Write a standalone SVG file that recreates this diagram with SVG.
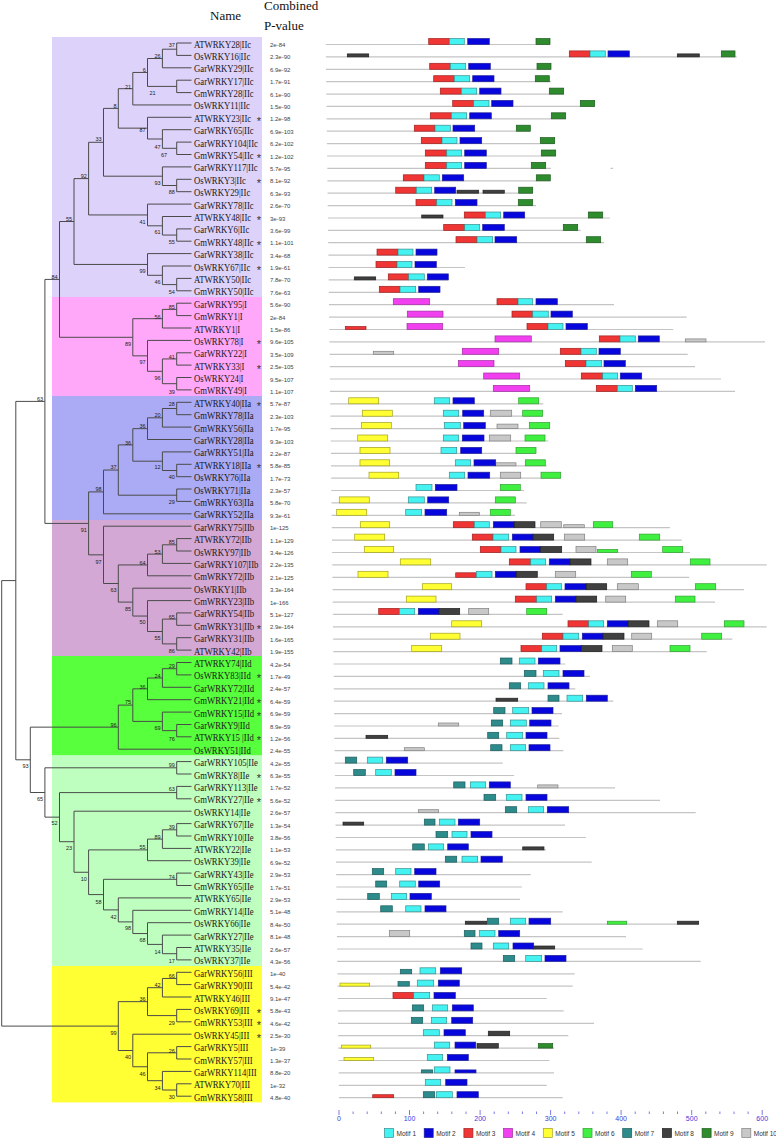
<svg xmlns="http://www.w3.org/2000/svg" width="776" height="1139" viewBox="0 0 776 1139">
<style>
.nm{font-family:"Liberation Serif",serif;font-size:10px;fill:#1a1a1a}
.pv{font-family:"Liberation Sans",sans-serif;font-size:6px;fill:#444}
.st{font-family:"Liberation Sans",sans-serif;font-size:11px;fill:#333;text-anchor:middle;transform:translateY(1.5px)}
.bs{font-family:"Liberation Sans",sans-serif;font-size:5.5px;fill:#222;text-anchor:end}
.hd{font-family:"Liberation Serif",serif;font-size:13px;fill:#111}
.tr{fill:none;stroke:#4a4a4a;stroke-width:1}
.ln{fill:none;stroke:#c4c4c4;stroke-width:1.2}
.cl{stroke:none}
rect{stroke-width:.7}
.m1{fill:#44F2F2;stroke:#3a8f8f}
.m2{fill:#0606DD;stroke:#20209a}
.m3{fill:#F03535;stroke:#a02020}
.m4{fill:#F040F0;stroke:#a030a0}
.m5{fill:#FFFF33;stroke:#a0a020}
.m6{fill:#40F040;stroke:#30a030}
.m7{fill:#2E8B8B;stroke:#1d5d5d}
.m8{fill:#404040;stroke:#202020}
.m9{fill:#2E8B2E;stroke:#1d5d1d}
.m10{fill:#C8C8C8;stroke:#808080}
.ax{font-family:"Liberation Sans",sans-serif;font-size:7px;fill:#3a3ae0;text-anchor:middle}
.tk{fill:none;stroke:#5a5ae0;stroke-width:.8}
.lg{font-family:"Liberation Sans",sans-serif;font-size:6.5px;fill:#333}
</style>
<rect width="776" height="1139" fill="#fff"/>
<g id="headers">
<text class="hd" x="210" y="20">Name</text>
<text class="hd" x="264" y="10">Combined</text>
<text class="hd" x="264" y="30">P-value</text>
</g>
<g id="clades">
<rect class="cl" x="52" y="37" width="210" height="260" fill="#DDD2FA"/>
<rect class="cl" x="52" y="297" width="210" height="99" fill="#FFA8FA"/>
<rect class="cl" x="52" y="396" width="210" height="124" fill="#AAAAF5"/>
<rect class="cl" x="52" y="520" width="210" height="136" fill="#D4A8D4"/>
<rect class="cl" x="52" y="656" width="210" height="99.5" fill="#58FF3C"/>
<rect class="cl" x="52" y="755.5" width="210" height="210.5" fill="#BEFFBF"/>
<rect class="cl" x="52" y="966" width="210" height="136.4" fill="#FFFF33"/>
</g>
<g id="connectors">
<path class="tr" d="M191.5 43H176.7V55.4H191.5M176.7 49.2H162.4V67.8H191.5M191.5 80.2H176.7V92.6H191.5M162.4 58.5H147.5V86.4H176.7M147.5 72.45H132.8V104.95H191.5M191.5 142.1H176.7V154.5H191.5M191.5 129.7H162.4V148.3H176.7M191.5 117.3H147.5V139H162.4M132.8 88.7H118.3V128.15H147.5M191.5 179.3H176.7V191.7H191.5M191.5 166.9H162.4V185.5H176.7M118.3 108.4H103.5V176.2H162.4M191.5 228.9H176.7V241.2H191.5M191.5 216.5H162.4V235.05H176.7M191.5 204.1H147.5V225.8H162.4M103.5 142.3H88.6V214.95H147.5M191.5 278.4H176.7V290.8H191.5M191.5 266H162.4V284.6H176.7M191.5 253.6H147.5V275.3H162.4M88.6 178.6H74V264.45H147.5"/>
<path class="tr" d="M191.5 303.2H176.7V315.6H191.5M176.7 309.4H162.4V328H191.5M191.5 352.8H176.7V365.1H191.5M191.5 377.5H176.7V389.9H191.5M176.7 358.95H162.4V383.7H176.7M191.5 340.4H147.5V371.3H162.4M162.4 318.7H132.8V355.85H147.5M74 221.5H59.5V337.3H132.8"/>
<path class="tr" d="M191.5 402.3H176.7V414.7H191.5M176.7 408.5H162.4V427.1H191.5M162.4 417.8H147.5V439.5H191.5M191.5 464.3H176.7V476.7H191.5M191.5 451.9H162.4V470.5H176.7M147.5 428.65H132.8V461.2H162.4M191.5 489H176.7V501.4H191.5M132.8 444.9H118.3V495.2H176.7M118.3 470.05H103.5V513.8H191.5"/>
<path class="tr" d="M191.5 538.6H176.7V551H191.5M176.7 544.8H162.4V563.4H191.5M162.4 554.1H147.5V575.8H191.5M191.5 612.9H176.7V625.3H191.5M191.5 637.7H176.7V650.1H191.5M176.7 619.1H162.4V643.9H176.7M191.5 600.6H147.5V631.5H162.4M191.5 588.2H132.8V616.05H147.5M147.5 564.95H118.3V602.1H132.8M191.5 526.2H103.5V583.5H118.3M103.5 491.9H88.6V554.85H103.5M59.5 279.4H44.9V523.4H88.6"/>
<path class="tr" d="M191.5 662.5H176.7V674.9H191.5M176.7 668.7H162.4V687.3H191.5M162.4 678H147.5V699.7H191.5M191.5 724.5H176.7V736.8H191.5M191.5 712.1H162.4V730.65H176.7M147.5 688.85H132.8V721.4H162.4M132.8 705.1H118.3V749.2H191.5"/>
<path class="tr" d="M191.5 761.6H176.7V774H191.5M191.5 786.4H176.7V798.8H191.5M191.5 823.6H176.7V836H191.5M176.7 829.8H162.4V848.4H191.5M162.4 839.1H147.5V860.7H191.5M191.5 873.1H176.7V885.5H191.5M191.5 947.5H176.7V959.9H191.5M191.5 935.1H162.4V953.7H176.7M191.5 922.7H147.5V944.4H162.4M191.5 910.3H132.8V933.55H147.5M191.5 897.9H118.3V921.9H132.8M176.7 879.3H103.5V909.9H118.3M147.5 849.9H88.6V894.6H103.5M191.5 811.2H74V872.25H88.6M176.7 792.6H59.5V841.7H74M176.7 767.8H44.9V817.15H59.5M118.3 727.15H30.3V792.5H44.9M44.9 401.4H15.8V759.8H30.3"/>
<path class="tr" d="M191.5 972.3H176.7V984.6H191.5M176.7 978.45H162.4V997H191.5M191.5 1009.4H176.7V1021.8H191.5M162.4 987.7H147.5V1015.6H176.7M191.5 1046.6H176.7V1059H191.5M191.5 1083.8H176.7V1096.2H191.5M191.5 1071.4H162.4V1090H176.7M176.7 1052.8H147.5V1080.7H162.4M191.5 1034.2H132.8V1066.75H147.5M147.5 1001.65H118.3V1050.5H132.8M15.8 580.6H1.7V1026.1H118.3"/>
</g>
<g id="bootstrap">
<text class="bs" x="174.9" y="46.8">37</text><text class="bs" x="160.6" y="57.8">26</text><text class="bs" x="155.5" y="94.5">21</text><text class="bs" x="145.7" y="71.8">6</text><text class="bs" x="131" y="88.8">21</text><text class="bs" x="167" y="156.8">67</text><text class="bs" x="160.6" y="148.5">47</text><text class="bs" x="145.7" y="131.8">87</text><text class="bs" x="116.5" y="107.8">8</text><text class="bs" x="174.9" y="193.8">88</text><text class="bs" x="160.6" y="185">93</text><text class="bs" x="101.7" y="141.1">33</text><text class="bs" x="174.9" y="243.5">55</text><text class="bs" x="160.6" y="234.1">61</text><text class="bs" x="145.7" y="223.5">41</text><text class="bs" x="86.8" y="177.8">92</text><text class="bs" x="174.9" y="294.1">54</text><text class="bs" x="160.6" y="284.1">46</text><text class="bs" x="145.7" y="272.8">99</text><text class="bs" x="72.2" y="220.8">55</text>
<text class="bs" x="174.9" y="308.5">85</text><text class="bs" x="160.6" y="318.5">56</text><text class="bs" x="174.9" y="358.5">41</text><text class="bs" x="174.9" y="393.5">39</text><text class="bs" x="160.6" y="380.1">96</text><text class="bs" x="145.7" y="363.8">97</text><text class="bs" x="131" y="346.1">89</text><text class="bs" x="57.7" y="278.5">84</text>
<text class="bs" x="174.9" y="406.1">28</text><text class="bs" x="160.6" y="416.8">20</text><text class="bs" x="145.7" y="427.8">36</text><text class="bs" x="174.9" y="479.1">40</text><text class="bs" x="160.6" y="469.1">12</text><text class="bs" x="131" y="444.5">36</text><text class="bs" x="174.9" y="504.1">29</text><text class="bs" x="116.5" y="469.1">37</text><text class="bs" x="101.7" y="490.8">98</text>
<text class="bs" x="174.9" y="543.5">85</text><text class="bs" x="160.6" y="553.5">53</text><text class="bs" x="145.7" y="564.5">64</text><text class="bs" x="174.9" y="618.5">65</text><text class="bs" x="174.9" y="652.8">86</text><text class="bs" x="160.6" y="640.1">55</text><text class="bs" x="145.7" y="624.1">50</text><text class="bs" x="131" y="610.8">85</text><text class="bs" x="116.5" y="591.8">63</text><text class="bs" x="101.7" y="564.1">97</text><text class="bs" x="86.8" y="531.8">91</text><text class="bs" x="43.1" y="400.8">63</text>
<text class="bs" x="174.9" y="667.8">29</text><text class="bs" x="160.6" y="677.5">24</text><text class="bs" x="145.7" y="688.5">36</text><text class="bs" x="174.9" y="740.8">76</text><text class="bs" x="160.6" y="730.1">69</text><text class="bs" x="131" y="704.1">75</text><text class="bs" x="116.5" y="726.8">96</text>
<text class="bs" x="174.9" y="766.8">99</text><text class="bs" x="174.9" y="791.1">63</text><text class="bs" x="174.9" y="828.5">39</text><text class="bs" x="160.6" y="838.5">89</text><text class="bs" x="145.7" y="849.1">55</text><text class="bs" x="174.9" y="878.5">74</text><text class="bs" x="174.9" y="962.5">17</text><text class="bs" x="160.6" y="953.5">14</text><text class="bs" x="145.7" y="941.8">68</text><text class="bs" x="131" y="930.1">98</text><text class="bs" x="116.5" y="918.5">42</text><text class="bs" x="101.7" y="903.5">58</text><text class="bs" x="86.8" y="880.8">10</text><text class="bs" x="72.2" y="850.1">23</text><text class="bs" x="57.7" y="825.1">52</text><text class="bs" x="43.1" y="801.1">65</text><text class="bs" x="28.5" y="767.8">93</text>
<text class="bs" x="174.9" y="977.5">66</text><text class="bs" x="160.6" y="986.8">42</text><text class="bs" x="174.9" y="1024.5">29</text><text class="bs" x="145.7" y="1000.8">36</text><text class="bs" x="174.9" y="1052.5">26</text><text class="bs" x="174.9" y="1098.5">30</text><text class="bs" x="160.6" y="1089.5">34</text><text class="bs" x="145.7" y="1075.8">46</text><text class="bs" x="131" y="1059.1">40</text><text class="bs" x="116.5" y="1034.5">99</text>
</g>
<g id="r00" transform="translate(0,43)"><text class="nm" transform="matrix(.87 0 0 1 194 4.5)">ATWRKY28|IIc</text><text class="pv" x="270" y="4">2e-84</text><path class="ln" d="M325.7 1.5H550"/><rect class="m3" x="428.7" y="-4.5" width="20.6" height="6"/><rect class="m1" x="449.3" y="-4.5" width="15" height="6"/><rect class="m2" x="467.7" y="-4.5" width="21.6" height="6"/><rect class="m9" x="536" y="-4.5" width="14" height="6"/></g>
<g id="r01" transform="translate(0,55.4)"><text class="nm" transform="matrix(.87 0 0 1 194 4.5)">OsWRKY16|IIc</text><text class="pv" x="270" y="4">2.3e-90</text><path class="ln" d="M325.9 1.5H736.7"/><rect class="m8" x="347.3" y="-1.5" width="21.4" height="3"/><rect class="m3" x="569.3" y="-4.5" width="20.7" height="6"/><rect class="m1" x="590" y="-4.5" width="15.3" height="6"/><rect class="m2" x="608" y="-4.5" width="21.3" height="6"/><rect class="m8" x="677.3" y="-1.5" width="22" height="3"/><rect class="m9" x="721.3" y="-4.5" width="13.7" height="6"/></g>
<g id="r02" transform="translate(0,67.8)"><text class="nm" transform="matrix(.87 0 0 1 194 4.5)">GarWRKY29|IIc</text><text class="pv" x="270" y="4">6.9e-92</text><path class="ln" d="M326 1.5H551"/><rect class="m3" x="429.7" y="-4.5" width="20.6" height="6"/><rect class="m1" x="450.3" y="-4.5" width="15.4" height="6"/><rect class="m2" x="468.7" y="-4.5" width="21.6" height="6"/><rect class="m9" x="537" y="-4.5" width="14" height="6"/></g>
<g id="r03" transform="translate(0,80.2)"><text class="nm" transform="matrix(.87 0 0 1 194 4.5)">GarWRKY17|IIc</text><text class="pv" x="270" y="4">1.7e-91</text><path class="ln" d="M326.2 1.5H551"/><rect class="m3" x="433.7" y="-4.5" width="20.6" height="6"/><rect class="m1" x="454.3" y="-4.5" width="15.4" height="6"/><rect class="m2" x="472.7" y="-4.5" width="21.3" height="6"/><rect class="m9" x="535.3" y="-4.5" width="14" height="6"/></g>
<g id="r04" transform="translate(0,92.6)"><text class="nm" transform="matrix(.87 0 0 1 194 4.5)">GmWRKY28|IIc</text><text class="pv" x="270" y="4">6.1e-90</text><path class="ln" d="M326.3 1.5H563.7"/><rect class="m3" x="440.3" y="-4.5" width="21" height="6"/><rect class="m1" x="461.3" y="-4.5" width="15.4" height="6"/><rect class="m2" x="479.7" y="-4.5" width="21.3" height="6"/><rect class="m9" x="549.3" y="-4.5" width="14.4" height="6"/></g>
<g id="r05" transform="translate(0,104.95)"><text class="nm" transform="matrix(.87 0 0 1 194 4.5)">OsWRKY11|IIc</text><text class="pv" x="270" y="4">1.5e-90</text><path class="ln" d="M326.5 1.5H594.7"/><rect class="m3" x="452.7" y="-4.5" width="21" height="6"/><rect class="m1" x="473.7" y="-4.5" width="15.3" height="6"/><rect class="m2" x="491.7" y="-4.5" width="21.3" height="6"/><rect class="m9" x="580.3" y="-4.5" width="14.4" height="6"/></g>
<g id="r06" transform="translate(0,117.3)"><text class="nm" transform="matrix(.87 0 0 1 194 4.5)">ATWRKY23|IIc</text><text class="st" x="259" y="6">*</text><text class="pv" x="270" y="4">1.2e-98</text><path class="ln" d="M326.6 1.5H565.7"/><rect class="m3" x="430.3" y="-4.5" width="21" height="6"/><rect class="m1" x="451.3" y="-4.5" width="15.4" height="6"/><rect class="m2" x="469.7" y="-4.5" width="21.6" height="6"/><rect class="m9" x="551.3" y="-4.5" width="14.4" height="6"/></g>
<g id="r07" transform="translate(0,129.7)"><text class="nm" transform="matrix(.87 0 0 1 194 4.5)">GarWRKY65|IIc</text><text class="pv" x="270" y="4">6.9e-103</text><path class="ln" d="M326.8 1.5H530.3"/><rect class="m3" x="414.3" y="-4.5" width="20.7" height="6"/><rect class="m1" x="435" y="-4.5" width="15.3" height="6"/><rect class="m2" x="453" y="-4.5" width="21.7" height="6"/><rect class="m9" x="516.3" y="-4.5" width="14" height="6"/></g>
<g id="r08" transform="translate(0,142.1)"><text class="nm" transform="matrix(.87 0 0 1 194 4.5)">GarWRKY104|IIc</text><text class="pv" x="270" y="4">6.2e-102</text><path class="ln" d="M326.9 1.5H554.7"/><rect class="m3" x="421.3" y="-4.5" width="20.7" height="6"/><rect class="m1" x="442" y="-4.5" width="15" height="6"/><rect class="m2" x="460" y="-4.5" width="21.7" height="6"/><rect class="m9" x="540.3" y="-4.5" width="14.4" height="6"/></g>
<g id="r09" transform="translate(0,154.5)"><text class="nm" transform="matrix(.87 0 0 1 194 4.5)">GmWRKY54|IIc</text><text class="st" x="259" y="6">*</text><text class="pv" x="270" y="4">1.2e-102</text><path class="ln" d="M327.1 1.5H555.7"/><rect class="m3" x="425.3" y="-4.5" width="21.4" height="6"/><rect class="m1" x="446.7" y="-4.5" width="15" height="6"/><rect class="m2" x="464.7" y="-4.5" width="21.6" height="6"/><rect class="m9" x="541.3" y="-4.5" width="14.4" height="6"/></g>
<g id="r10" transform="translate(0,166.9)"><text class="nm" transform="matrix(.87 0 0 1 194 4.5)">GarWRKY117|IIc</text><text class="pv" x="270" y="4">5.7e-95</text><path class="ln" d="M327.3 1.5H551M610.5 1.5H613"/><rect class="m3" x="425.3" y="-4.5" width="21.4" height="6"/><rect class="m1" x="446.7" y="-4.5" width="15" height="6"/><rect class="m2" x="464.7" y="-4.5" width="21.6" height="6"/><rect class="m9" x="531.3" y="-4.5" width="14.4" height="6"/></g>
<g id="r11" transform="translate(0,179.3)"><text class="nm" transform="matrix(.87 0 0 1 194 4.5)">OsWRKY3|IIc</text><text class="st" x="259" y="6">*</text><text class="pv" x="270" y="4">8.1e-92</text><path class="ln" d="M327.4 1.5H550.3"/><rect class="m3" x="403.3" y="-4.5" width="20.7" height="6"/><rect class="m1" x="424" y="-4.5" width="15.3" height="6"/><rect class="m2" x="442.3" y="-4.5" width="21.4" height="6"/><rect class="m9" x="536.3" y="-4.5" width="14" height="6"/></g>
<g id="r12" transform="translate(0,191.7)"><text class="nm" transform="matrix(.87 0 0 1 194 4.5)">OsWRKY29|IIc</text><text class="pv" x="270" y="4">6.3e-93</text><path class="ln" d="M327.6 1.5H532.7"/><rect class="m3" x="395.7" y="-4.5" width="20.6" height="6"/><rect class="m1" x="416.3" y="-4.5" width="15.4" height="6"/><rect class="m2" x="434.7" y="-4.5" width="21" height="6"/><rect class="m8" x="457" y="-1.5" width="21.7" height="3"/><rect class="m8" x="483" y="-1.5" width="21.3" height="3"/><rect class="m9" x="518.7" y="-4.5" width="14" height="6"/></g>
<g id="r13" transform="translate(0,204.1)"><text class="nm" transform="matrix(.87 0 0 1 194 4.5)">GarWRKY78|IIc</text><text class="pv" x="270" y="4">2.6e-70</text><path class="ln" d="M327.7 1.5H536"/><rect class="m3" x="416" y="-4.5" width="20.7" height="6"/><rect class="m1" x="436.7" y="-4.5" width="15.3" height="6"/><rect class="m2" x="455.3" y="-4.5" width="21.7" height="6"/><rect class="m9" x="518.3" y="-4.5" width="14.4" height="6"/></g>
<g id="r14" transform="translate(0,216.5)"><text class="nm" transform="matrix(.87 0 0 1 194 4.5)">ATWRKY48|IIc</text><text class="st" x="259" y="6">*</text><text class="pv" x="270" y="4">3e-93</text><path class="ln" d="M327.9 1.5H610"/><rect class="m8" x="421.7" y="-1.5" width="21.3" height="3"/><rect class="m3" x="464.3" y="-4.5" width="21" height="6"/><rect class="m1" x="485.3" y="-4.5" width="15.4" height="6"/><rect class="m2" x="503.7" y="-4.5" width="21" height="6"/><rect class="m9" x="588.3" y="-4.5" width="14.4" height="6"/></g>
<g id="r15" transform="translate(0,228.9)"><text class="nm" transform="matrix(.87 0 0 1 194 4.5)">GarWRKY6|IIc</text><text class="pv" x="270" y="4">3.6e-99</text><path class="ln" d="M328 1.5H580.7"/><rect class="m3" x="443.7" y="-4.5" width="21" height="6"/><rect class="m1" x="464.7" y="-4.5" width="15" height="6"/><rect class="m2" x="482.7" y="-4.5" width="21.6" height="6"/><rect class="m9" x="563.3" y="-4.5" width="14.4" height="6"/></g>
<g id="r16" transform="translate(0,241.2)"><text class="nm" transform="matrix(.87 0 0 1 194 4.5)">GmWRKY48|IIc</text><text class="st" x="259" y="6">*</text><text class="pv" x="270" y="4">1.1e-101</text><path class="ln" d="M328.2 1.5H604"/><rect class="m3" x="456" y="-4.5" width="21" height="6"/><rect class="m1" x="477" y="-4.5" width="15.7" height="6"/><rect class="m2" x="495" y="-4.5" width="21.7" height="6"/><rect class="m9" x="586.3" y="-4.5" width="14.4" height="6"/></g>
<g id="r17" transform="translate(0,253.6)"><text class="nm" transform="matrix(.87 0 0 1 194 4.5)">GarWRKY38|IIc</text><text class="pv" x="270" y="4">3.4e-68</text><path class="ln" d="M328.4 1.5H437"/><rect class="m3" x="377" y="-4.5" width="21" height="6"/><rect class="m1" x="398" y="-4.5" width="15" height="6"/><rect class="m2" x="416" y="-4.5" width="21" height="6"/></g>
<g id="r18" transform="translate(0,266)"><text class="nm" transform="matrix(.87 0 0 1 194 4.5)">OsWRKY67|IIc</text><text class="st" x="259" y="6">*</text><text class="pv" x="270" y="4">1.9e-61</text><path class="ln" d="M328.5 1.5H465"/><rect class="m3" x="376" y="-4.5" width="21" height="6"/><rect class="m1" x="397" y="-4.5" width="15" height="6"/><rect class="m2" x="415" y="-4.5" width="21.3" height="6"/></g>
<g id="r19" transform="translate(0,278.4)"><text class="nm" transform="matrix(.87 0 0 1 194 4.5)">ATWRKY50|IIc</text><text class="pv" x="270" y="4">7.8e-70</text><path class="ln" d="M328.7 1.5H448.3"/><rect class="m8" x="354.3" y="-1.5" width="21.4" height="3"/><rect class="m3" x="388.3" y="-4.5" width="20.4" height="6"/><rect class="m1" x="408.7" y="-4.5" width="15.6" height="6"/><rect class="m2" x="427.3" y="-4.5" width="21" height="6"/></g>
<g id="r20" transform="translate(0,290.8)"><text class="nm" transform="matrix(.87 0 0 1 194 4.5)">GmWRKY50|IIc</text><text class="pv" x="270" y="4">7.6e-63</text><path class="ln" d="M328.8 1.5H440"/><rect class="m3" x="379.3" y="-4.5" width="20.7" height="6"/><rect class="m1" x="400" y="-4.5" width="15.7" height="6"/><rect class="m2" x="418.7" y="-4.5" width="21.3" height="6"/></g>
<g id="r21" transform="translate(0,303.2)"><text class="nm" transform="matrix(.87 0 0 1 194 4.5)">GarWRKY95|I</text><text class="pv" x="270" y="4">5.6e-90</text><path class="ln" d="M329 1.5H614"/><rect class="m4" x="393.3" y="-4.5" width="36.4" height="6"/><rect class="m3" x="497" y="-4.5" width="21" height="6"/><rect class="m1" x="518" y="-4.5" width="14.7" height="6"/><rect class="m2" x="536" y="-4.5" width="21.3" height="6"/></g>
<g id="r22" transform="translate(0,315.6)"><text class="nm" transform="matrix(.87 0 0 1 194 4.5)">GmWRKY1|I</text><text class="pv" x="270" y="4">2e-84</text><path class="ln" d="M329.1 1.5H686.7"/><rect class="m4" x="407.3" y="-4.5" width="35.7" height="6"/><rect class="m3" x="512" y="-4.5" width="20.7" height="6"/><rect class="m1" x="532.7" y="-4.5" width="15.6" height="6"/><rect class="m2" x="551" y="-4.5" width="21.3" height="6"/></g>
<g id="r23" transform="translate(0,328)"><text class="nm" transform="matrix(.87 0 0 1 194 4.5)">ATWRKY1|I</text><text class="pv" x="270" y="4">1.5e-86</text><path class="ln" d="M329.3 1.5H673.3"/><rect class="m3" x="345.3" y="-1.5" width="20.7" height="3"/><rect class="m4" x="407" y="-4.5" width="35.7" height="6"/><rect class="m3" x="527" y="-4.5" width="21" height="6"/><rect class="m1" x="548" y="-4.5" width="15" height="6"/><rect class="m2" x="566" y="-4.5" width="21.3" height="6"/></g>
<g id="r24" transform="translate(0,340.4)"><text class="nm" transform="matrix(.87 0 0 1 194 4.5)">OsWRKY78|I</text><text class="st" x="259" y="6">*</text><text class="pv" x="270" y="4">9.6e-105</text><path class="ln" d="M329.4 1.5H765"/><rect class="m4" x="495" y="-4.5" width="36.3" height="6"/><rect class="m3" x="599.3" y="-4.5" width="20.7" height="6"/><rect class="m1" x="620" y="-4.5" width="15.3" height="6"/><rect class="m2" x="638.3" y="-4.5" width="21" height="6"/><rect class="m10" x="685.3" y="-1.5" width="20.7" height="3"/></g>
<g id="r25" transform="translate(0,352.8)"><text class="nm" transform="matrix(.87 0 0 1 194 4.5)">GarWRKY22|I</text><text class="pv" x="270" y="4">3.5e-109</text><path class="ln" d="M329.6 1.5H687.7"/><rect class="m10" x="373.3" y="-1.5" width="20.4" height="3"/><rect class="m4" x="462.3" y="-4.5" width="36.4" height="6"/><rect class="m3" x="560.3" y="-4.5" width="20.7" height="6"/><rect class="m1" x="581" y="-4.5" width="15.3" height="6"/><rect class="m2" x="599" y="-4.5" width="21.3" height="6"/></g>
<g id="r26" transform="translate(0,365.1)"><text class="nm" transform="matrix(.87 0 0 1 194 4.5)">ATWRKY33|I</text><text class="st" x="259" y="6">*</text><text class="pv" x="270" y="4">2.5e-105</text><path class="ln" d="M329.8 1.5H695"/><rect class="m4" x="458.3" y="-4.5" width="35.7" height="6"/><rect class="m3" x="565.3" y="-4.5" width="20.7" height="6"/><rect class="m1" x="586" y="-4.5" width="15.7" height="6"/><rect class="m2" x="604" y="-4.5" width="21.3" height="6"/></g>
<g id="r27" transform="translate(0,377.5)"><text class="nm" transform="matrix(.87 0 0 1 194 4.5)">OsWRKY24|I</text><text class="pv" x="270" y="4">9.5e-107</text><path class="ln" d="M329.9 1.5H721"/><rect class="m4" x="483.7" y="-4.5" width="36" height="6"/><rect class="m3" x="581.3" y="-4.5" width="21.4" height="6"/><rect class="m1" x="602.7" y="-4.5" width="15" height="6"/><rect class="m2" x="620.3" y="-4.5" width="21.4" height="6"/></g>
<g id="r28" transform="translate(0,389.9)"><text class="nm" transform="matrix(.87 0 0 1 194 4.5)">GmWRKY49|I</text><text class="pv" x="270" y="4">1.1e-107</text><path class="ln" d="M330.1 1.5H735"/><rect class="m4" x="493.3" y="-4.5" width="36.4" height="6"/><rect class="m3" x="596.3" y="-4.5" width="21" height="6"/><rect class="m1" x="617.3" y="-4.5" width="15" height="6"/><rect class="m2" x="635.3" y="-4.5" width="21.4" height="6"/></g>
<g id="r29" transform="translate(0,402.3)"><text class="nm" transform="matrix(.87 0 0 1 194 4.5)">ATWRKY40|IIa</text><text class="st" x="259" y="6">*</text><text class="pv" x="270" y="4">5.7e-87</text><path class="ln" d="M330.2 1.5H543.3"/><rect class="m5" x="348.7" y="-4.5" width="30" height="6"/><rect class="m1" x="434.3" y="-4.5" width="15.4" height="6"/><rect class="m2" x="453" y="-4.5" width="21.3" height="6"/><rect class="m6" x="518.7" y="-4.5" width="20" height="6"/></g>
<g id="r30" transform="translate(0,414.7)"><text class="nm" transform="matrix(.87 0 0 1 194 4.5)">GmWRKY78|IIa</text><text class="pv" x="270" y="4">2.3e-103</text><path class="ln" d="M330.4 1.5H542.7"/><rect class="m5" x="362.3" y="-4.5" width="30" height="6"/><rect class="m1" x="443.3" y="-4.5" width="15.4" height="6"/><rect class="m2" x="462.7" y="-4.5" width="21" height="6"/><rect class="m10" x="490.3" y="-4.5" width="21.4" height="6"/><rect class="m6" x="522.7" y="-4.5" width="20" height="6"/></g>
<g id="r31" transform="translate(0,427.1)"><text class="nm" transform="matrix(.87 0 0 1 194 4.5)">GmWRKY56|IIa</text><text class="pv" x="270" y="4">1.7e-95</text><path class="ln" d="M330.5 1.5H550"/><rect class="m5" x="361.3" y="-4.5" width="30" height="6"/><rect class="m1" x="444.3" y="-4.5" width="16" height="6"/><rect class="m2" x="463.7" y="-4.5" width="21.6" height="6"/><rect class="m10" x="497" y="-3" width="21" height="4.5"/><rect class="m6" x="529.3" y="-4.5" width="20.4" height="6"/></g>
<g id="r32" transform="translate(0,439.5)"><text class="nm" transform="matrix(.87 0 0 1 194 4.5)">GarWRKY28|IIa</text><text class="pv" x="270" y="4">9.3e-103</text><path class="ln" d="M330.7 1.5H548.3"/><rect class="m5" x="357.7" y="-4.5" width="30" height="6"/><rect class="m1" x="443.3" y="-4.5" width="15.4" height="6"/><rect class="m2" x="462.3" y="-4.5" width="21.7" height="6"/><rect class="m10" x="489.3" y="-4.5" width="21.4" height="6"/><rect class="m6" x="525" y="-4.5" width="20" height="6"/></g>
<g id="r33" transform="translate(0,451.9)"><text class="nm" transform="matrix(.87 0 0 1 194 4.5)">GarWRKY51|IIa</text><text class="pv" x="270" y="4">2.2e-87</text><path class="ln" d="M330.9 1.5H536"/><rect class="m5" x="360" y="-4.5" width="30" height="6"/><rect class="m1" x="441" y="-4.5" width="15.7" height="6"/><rect class="m2" x="460.7" y="-4.5" width="21" height="6"/><rect class="m6" x="516" y="-4.5" width="20" height="6"/></g>
<g id="r34" transform="translate(0,464.3)"><text class="nm" transform="matrix(.87 0 0 1 194 4.5)">ATWRKY18|IIa</text><text class="st" x="259" y="6">*</text><text class="pv" x="270" y="4">5.8e-85</text><path class="ln" d="M331 1.5H546.7"/><rect class="m5" x="360" y="-4.5" width="29.7" height="6"/><rect class="m1" x="455.3" y="-4.5" width="15.4" height="6"/><rect class="m10" x="495.7" y="-1.5" width="20.3" height="3"/><rect class="m2" x="474" y="-4.5" width="21.7" height="6"/><rect class="m6" x="525.3" y="-4.5" width="20" height="6"/></g>
<g id="r35" transform="translate(0,476.7)"><text class="nm" transform="matrix(.87 0 0 1 194 4.5)">OsWRKY76|IIa</text><text class="pv" x="270" y="4">1.7e-73</text><path class="ln" d="M331.2 1.5H560.7"/><rect class="m5" x="369" y="-4.5" width="29.7" height="6"/><rect class="m1" x="449.3" y="-4.5" width="15.4" height="6"/><rect class="m2" x="468" y="-4.5" width="21.7" height="6"/><rect class="m10" x="500.3" y="-4.5" width="20.4" height="6"/><rect class="m6" x="541" y="-4.5" width="19.7" height="6"/></g>
<g id="r36" transform="translate(0,489)"><text class="nm" transform="matrix(.87 0 0 1 194 4.5)">OsWRKY71|IIa</text><text class="pv" x="270" y="4">2.3e-57</text><path class="ln" d="M331.3 1.5H524"/><rect class="m1" x="416" y="-4.5" width="16" height="6"/><rect class="m2" x="435.3" y="-4.5" width="21.7" height="6"/><rect class="m6" x="500.3" y="-4.5" width="20" height="6"/></g>
<g id="r37" transform="translate(0,501.4)"><text class="nm" transform="matrix(.87 0 0 1 194 4.5)">GmWRKY63|IIa</text><text class="pv" x="270" y="4">5.8e-70</text><path class="ln" d="M331.5 1.5H526.7"/><rect class="m5" x="339.3" y="-4.5" width="30" height="6"/><rect class="m1" x="408.3" y="-4.5" width="16" height="6"/><rect class="m2" x="427.7" y="-4.5" width="21" height="6"/><rect class="m6" x="495.3" y="-4.5" width="20" height="6"/></g>
<g id="r38" transform="translate(0,513.8)"><text class="nm" transform="matrix(.87 0 0 1 194 4.5)">GarWRKY52|IIa</text><text class="pv" x="270" y="4">9.3e-61</text><path class="ln" d="M331.6 1.5H515"/><rect class="m5" x="336.7" y="-4.5" width="30" height="6"/><rect class="m1" x="405.7" y="-4.5" width="16" height="6"/><rect class="m2" x="425" y="-4.5" width="21.7" height="6"/><rect class="m10" x="459.3" y="-1.5" width="20" height="3"/><rect class="m6" x="490.3" y="-4.5" width="20" height="6"/></g>
<g id="r39" transform="translate(0,526.2)"><text class="nm" transform="matrix(.87 0 0 1 194 4.5)">GarWRKY75|IIb</text><text class="pv" x="270" y="4">1e-125</text><path class="ln" d="M331.8 1.5H670"/><rect class="m5" x="360.3" y="-4.5" width="29.4" height="6"/><rect class="m3" x="453.3" y="-4.5" width="21" height="6"/><rect class="m1" x="474.3" y="-4.5" width="15" height="6"/><rect class="m2" x="493.3" y="-4.5" width="21" height="6"/><rect class="m8" x="514.3" y="-4.5" width="20.7" height="6"/><rect class="m10" x="540.7" y="-4.5" width="20.6" height="6"/><rect class="m10" x="563.7" y="-1.5" width="20.6" height="3"/><rect class="m6" x="593.3" y="-4.5" width="19.4" height="6"/></g>
<g id="r40" transform="translate(0,538.6)"><text class="nm" transform="matrix(.87 0 0 1 194 4.5)">ATWRKY72|IIb</text><text class="pv" x="270" y="4">1.1e-129</text><path class="ln" d="M332 1.5H681.7"/><rect class="m5" x="354.7" y="-4.5" width="30" height="6"/><rect class="m3" x="472.3" y="-4.5" width="20.7" height="6"/><rect class="m1" x="493" y="-4.5" width="15.7" height="6"/><rect class="m2" x="512.3" y="-4.5" width="20.7" height="6"/><rect class="m8" x="533" y="-4.5" width="20.7" height="6"/><rect class="m10" x="564.3" y="-4.5" width="20.4" height="6"/><rect class="m6" x="639.3" y="-4.5" width="20.4" height="6"/></g>
<g id="r41" transform="translate(0,551)"><text class="nm" transform="matrix(.87 0 0 1 194 4.5)">OsWRKY97|IIb</text><text class="pv" x="270" y="4">3.4e-126</text><path class="ln" d="M332.1 1.5H690"/><rect class="m5" x="364.3" y="-4.5" width="29.4" height="6"/><rect class="m3" x="480.3" y="-4.5" width="20.7" height="6"/><rect class="m1" x="501" y="-4.5" width="15" height="6"/><rect class="m2" x="520" y="-4.5" width="20.7" height="6"/><rect class="m8" x="540.7" y="-4.5" width="21" height="6"/><rect class="m10" x="576" y="-4.5" width="20" height="6"/><rect class="m6" x="597.3" y="-1.5" width="20.4" height="3"/><rect class="m6" x="662.7" y="-4.5" width="20" height="6"/></g>
<g id="r42" transform="translate(0,563.4)"><text class="nm" transform="matrix(.87 0 0 1 194 4.5)">GarWRKY107|IIb</text><text class="pv" x="270" y="4">2.2e-135</text><path class="ln" d="M332.3 1.5H766.7"/><rect class="m5" x="400.3" y="-4.5" width="30.4" height="6"/><rect class="m3" x="509.3" y="-4.5" width="21.4" height="6"/><rect class="m1" x="530.7" y="-4.5" width="15" height="6"/><rect class="m2" x="549.3" y="-4.5" width="20.7" height="6"/><rect class="m8" x="570" y="-4.5" width="21" height="6"/><rect class="m10" x="607.3" y="-4.5" width="20.4" height="6"/><rect class="m6" x="690.3" y="-4.5" width="19.7" height="6"/></g>
<g id="r43" transform="translate(0,575.8)"><text class="nm" transform="matrix(.87 0 0 1 194 4.5)">GmWRKY72|IIb</text><text class="pv" x="270" y="4">2.1e-125</text><path class="ln" d="M332.4 1.5H689.3"/><rect class="m5" x="358" y="-4.5" width="30" height="6"/><rect class="m3" x="455.7" y="-3" width="20.6" height="4.5"/><rect class="m1" x="476.3" y="-4.5" width="15.7" height="6"/><rect class="m2" x="495.3" y="-4.5" width="21" height="6"/><rect class="m8" x="516.3" y="-4.5" width="21" height="6"/><rect class="m10" x="555.3" y="-4.5" width="20.4" height="6"/><rect class="m6" x="631.3" y="-4.5" width="20" height="6"/></g>
<g id="r44" transform="translate(0,588.2)"><text class="nm" transform="matrix(.87 0 0 1 194 4.5)">OsWRKY1|IIb</text><text class="pv" x="270" y="4">3.3e-164</text><path class="ln" d="M332.6 1.5H744"/><rect class="m5" x="422.3" y="-4.5" width="29.4" height="6"/><rect class="m3" x="526" y="-4.5" width="20.7" height="6"/><rect class="m1" x="546.7" y="-4.5" width="15" height="6"/><rect class="m2" x="565" y="-4.5" width="21.3" height="6"/><rect class="m8" x="586.3" y="-4.5" width="20.4" height="6"/><rect class="m10" x="617.3" y="-4.5" width="21" height="6"/><rect class="m6" x="695.3" y="-4.5" width="20.4" height="6"/></g>
<g id="r45" transform="translate(0,600.6)"><text class="nm" transform="matrix(.87 0 0 1 194 4.5)">GmWRKY23|IIb</text><text class="pv" x="270" y="4">1e-166</text><path class="ln" d="M332.7 1.5H715"/><rect class="m5" x="406.3" y="-4.5" width="29.7" height="6"/><rect class="m3" x="515.3" y="-4.5" width="21.4" height="6"/><rect class="m1" x="536.7" y="-4.5" width="15" height="6"/><rect class="m2" x="555.3" y="-4.5" width="20.7" height="6"/><rect class="m8" x="576" y="-4.5" width="20.7" height="6"/><rect class="m10" x="605.7" y="-4.5" width="20" height="6"/><rect class="m6" x="675.3" y="-4.5" width="19.7" height="6"/></g>
<g id="r46" transform="translate(0,612.9)"><text class="nm" transform="matrix(.87 0 0 1 194 4.5)">GarWRKY54|IIb</text><text class="pv" x="270" y="4">5.1e-127</text><path class="ln" d="M332.9 1.5H562.7"/><rect class="m3" x="378.7" y="-4.5" width="20.6" height="6"/><rect class="m1" x="399.3" y="-4.5" width="15.4" height="6"/><rect class="m2" x="418.3" y="-4.5" width="20.7" height="6"/><rect class="m8" x="439" y="-4.5" width="20.7" height="6"/><rect class="m10" x="468.7" y="-4.5" width="20" height="6"/><rect class="m6" x="526.7" y="-4.5" width="20" height="6"/></g>
<g id="r47" transform="translate(0,625.3)"><text class="nm" transform="matrix(.87 0 0 1 194 4.5)">GmWRKY31|IIb</text><text class="st" x="259" y="6">*</text><text class="pv" x="270" y="4">2.9e-164</text><path class="ln" d="M333 1.5H766.7"/><rect class="m5" x="451.7" y="-4.5" width="30" height="6"/><rect class="m3" x="568" y="-4.5" width="20.7" height="6"/><rect class="m1" x="588.7" y="-4.5" width="15" height="6"/><rect class="m2" x="607.3" y="-4.5" width="21" height="6"/><rect class="m8" x="628.3" y="-4.5" width="20.7" height="6"/><rect class="m10" x="657.3" y="-4.5" width="20.4" height="6"/><rect class="m6" x="724.3" y="-4.5" width="19.7" height="6"/></g>
<g id="r48" transform="translate(0,637.7)"><text class="nm" transform="matrix(.87 0 0 1 194 4.5)">GarWRKY31|IIb</text><text class="pv" x="270" y="4">1.6e-165</text><path class="ln" d="M333.2 1.5H732.3"/><rect class="m5" x="430.3" y="-4.5" width="29.7" height="6"/><rect class="m3" x="542.3" y="-4.5" width="20.7" height="6"/><rect class="m1" x="563" y="-4.5" width="15.7" height="6"/><rect class="m2" x="582.3" y="-4.5" width="20.7" height="6"/><rect class="m8" x="603" y="-4.5" width="21" height="6"/><rect class="m10" x="631.7" y="-4.5" width="20" height="6"/><rect class="m6" x="701.7" y="-4.5" width="20" height="6"/></g>
<g id="r49" transform="translate(0,650.1)"><text class="nm" transform="matrix(.87 0 0 1 194 4.5)">ATWRKY42|IIb</text><text class="pv" x="270" y="4">1.9e-155</text><path class="ln" d="M333.3 1.5H706.7"/><rect class="m5" x="411.7" y="-4.5" width="30" height="6"/><rect class="m3" x="521" y="-4.5" width="20.7" height="6"/><rect class="m1" x="541.7" y="-4.5" width="15" height="6"/><rect class="m2" x="560" y="-4.5" width="21.3" height="6"/><rect class="m8" x="581.3" y="-4.5" width="20.7" height="6"/><rect class="m10" x="612.3" y="-4.5" width="20" height="6"/><rect class="m6" x="670" y="-4.5" width="20" height="6"/></g>
<g id="r50" transform="translate(0,662.5)"><text class="nm" transform="matrix(.87 0 0 1 194 4.5)">ATWRKY74|IId</text><text class="pv" x="270" y="4">4.2e-54</text><path class="ln" d="M333.5 1.5H565.3"/><rect class="m7" x="500.3" y="-4.5" width="11.7" height="6"/><rect class="m1" x="519.3" y="-4.5" width="15.7" height="6"/><rect class="m2" x="538.3" y="-4.5" width="21.7" height="6"/></g>
<g id="r51" transform="translate(0,674.9)"><text class="nm" transform="matrix(.87 0 0 1 194 4.5)">OsWRKY83|IId</text><text class="st" x="259" y="6">*</text><text class="pv" x="270" y="4">1.7e-49</text><path class="ln" d="M333.7 1.5H590"/><rect class="m7" x="524.3" y="-4.5" width="11.7" height="6"/><rect class="m1" x="543.3" y="-4.5" width="15.7" height="6"/><rect class="m2" x="563" y="-4.5" width="21" height="6"/></g>
<g id="r52" transform="translate(0,687.3)"><text class="nm" transform="matrix(.87 0 0 1 194 4.5)">GarWRKY72|IId</text><text class="pv" x="270" y="4">2.4e-57</text><path class="ln" d="M333.8 1.5H575.3"/><rect class="m7" x="509.3" y="-4.5" width="11.4" height="6"/><rect class="m1" x="528.3" y="-4.5" width="15.7" height="6"/><rect class="m2" x="548" y="-4.5" width="21" height="6"/></g>
<g id="r53" transform="translate(0,699.7)"><text class="nm" transform="matrix(.87 0 0 1 194 4.5)">GmWRKY21|IId</text><text class="st" x="259" y="6">*</text><text class="pv" x="270" y="4">6.4e-59</text><path class="ln" d="M334 1.5H613.3"/><rect class="m8" x="496" y="-1.5" width="21.7" height="3"/><rect class="m7" x="548" y="-4.5" width="11" height="6"/><rect class="m1" x="567" y="-4.5" width="15.7" height="6"/><rect class="m2" x="586.3" y="-4.5" width="21" height="6"/></g>
<g id="r54" transform="translate(0,712.1)"><text class="nm" transform="matrix(.87 0 0 1 194 4.5)">GmWRKY15|IId</text><text class="st" x="259" y="6">*</text><text class="pv" x="270" y="4">6.9e-59</text><path class="ln" d="M334.1 1.5H562"/><rect class="m7" x="493.7" y="-4.5" width="11.3" height="6"/><rect class="m1" x="512.7" y="-4.5" width="16" height="6"/><rect class="m2" x="532" y="-4.5" width="21" height="6"/></g>
<g id="r55" transform="translate(0,724.5)"><text class="nm" transform="matrix(.87 0 0 1 194 4.5)">GarWRKY9|IId</text><text class="pv" x="270" y="4">8.9e-59</text><path class="ln" d="M334.3 1.5H558.7"/><rect class="m10" x="438.3" y="-1.5" width="20.4" height="3"/><rect class="m7" x="491.3" y="-4.5" width="11.4" height="6"/><rect class="m1" x="510.3" y="-4.5" width="16" height="6"/><rect class="m2" x="529.7" y="-4.5" width="21.3" height="6"/></g>
<g id="r56" transform="translate(0,736.8)"><text class="nm" transform="matrix(.87 0 0 1 194 4.5)">ATWRKY15 |IId</text><text class="st" x="259" y="6">*</text><text class="pv" x="270" y="4">1.2e-56</text><path class="ln" d="M334.4 1.5H559.3"/><rect class="m8" x="366" y="-1.5" width="21.7" height="3"/><rect class="m7" x="487.7" y="-4.5" width="11" height="6"/><rect class="m1" x="506.7" y="-4.5" width="16" height="6"/><rect class="m2" x="526" y="-4.5" width="21" height="6"/></g>
<g id="r57" transform="translate(0,749.2)"><text class="nm" transform="matrix(.87 0 0 1 194 4.5)">OsWRKY51|IId</text><text class="pv" x="270" y="4">2.4e-55</text><path class="ln" d="M334.6 1.5H563.3"/><rect class="m10" x="404.3" y="-1.5" width="20" height="3"/><rect class="m7" x="490.7" y="-4.5" width="11.3" height="6"/><rect class="m1" x="510.3" y="-4.5" width="15.4" height="6"/><rect class="m2" x="529" y="-4.5" width="21" height="6"/></g>
<g id="r58" transform="translate(0,761.6)"><text class="nm" transform="matrix(.87 0 0 1 194 4.5)">GarWRKY105|IIe</text><text class="pv" x="270" y="4">4.2e-55</text><path class="ln" d="M334.7 1.5H502.7"/><rect class="m7" x="345.3" y="-4.5" width="11.4" height="6"/><rect class="m1" x="367.3" y="-4.5" width="15.4" height="6"/><rect class="m2" x="386.3" y="-4.5" width="21.4" height="6"/></g>
<g id="r59" transform="translate(0,774)"><text class="nm" transform="matrix(.87 0 0 1 194 4.5)">GmWRKY8|IIe</text><text class="st" x="259" y="6">*</text><text class="pv" x="270" y="4">6.3e-55</text><path class="ln" d="M334.9 1.5H514"/><rect class="m7" x="353.7" y="-4.5" width="11.6" height="6"/><rect class="m1" x="375.7" y="-4.5" width="15.6" height="6"/><rect class="m2" x="395" y="-4.5" width="21" height="6"/></g>
<g id="r60" transform="translate(0,786.4)"><text class="nm" transform="matrix(.87 0 0 1 194 4.5)">GarWRKY113|IIe</text><text class="pv" x="270" y="4">1.7e-52</text><path class="ln" d="M335.1 1.5H615"/><rect class="m7" x="453.7" y="-4.5" width="11.3" height="6"/><rect class="m1" x="470.3" y="-4.5" width="15.4" height="6"/><rect class="m2" x="489.3" y="-4.5" width="21" height="6"/><rect class="m10" x="537.7" y="-1.5" width="20.3" height="3"/></g>
<g id="r61" transform="translate(0,798.8)"><text class="nm" transform="matrix(.87 0 0 1 194 4.5)">GmWRKY27|IIe</text><text class="st" x="259" y="6">*</text><text class="pv" x="270" y="4">5.6e-52</text><path class="ln" d="M335.2 1.5H660"/><rect class="m7" x="484" y="-4.5" width="11.7" height="6"/><rect class="m1" x="506.3" y="-4.5" width="15.7" height="6"/><rect class="m2" x="526" y="-4.5" width="21" height="6"/></g>
<g id="r62" transform="translate(0,811.2)"><text class="nm" transform="matrix(.87 0 0 1 194 4.5)">OsWRKY14|IIe</text><text class="pv" x="270" y="4">2.6e-57</text><path class="ln" d="M335.4 1.5H695.7"/><rect class="m10" x="418.3" y="-1.5" width="20.4" height="3"/><rect class="m7" x="505.3" y="-4.5" width="11.4" height="6"/><rect class="m1" x="528.3" y="-4.5" width="15.4" height="6"/><rect class="m2" x="547.3" y="-4.5" width="21.4" height="6"/></g>
<g id="r63" transform="translate(0,823.6)"><text class="nm" transform="matrix(.87 0 0 1 194 4.5)">GarWRKY67|IIe</text><text class="pv" x="270" y="4">1.3e-54</text><path class="ln" d="M335.5 1.5H565"/><rect class="m8" x="343" y="-1.5" width="20.7" height="3"/><rect class="m7" x="424.3" y="-4.5" width="10.7" height="6"/><rect class="m1" x="439.3" y="-4.5" width="15.7" height="6"/><rect class="m2" x="458.3" y="-4.5" width="21.4" height="6"/></g>
<g id="r64" transform="translate(0,836)"><text class="nm" transform="matrix(.87 0 0 1 194 4.5)">GmWRKY10|IIe</text><text class="pv" x="270" y="4">3.8e-56</text><path class="ln" d="M335.7 1.5H586"/><rect class="m7" x="436" y="-4.5" width="11.7" height="6"/><rect class="m1" x="452" y="-4.5" width="15" height="6"/><rect class="m2" x="471" y="-4.5" width="21" height="6"/></g>
<g id="r65" transform="translate(0,848.4)"><text class="nm" transform="matrix(.87 0 0 1 194 4.5)">ATWRKY22|IIe</text><text class="pv" x="270" y="4">1.1e-53</text><path class="ln" d="M335.8 1.5H546"/><rect class="m7" x="412.7" y="-4.5" width="11.6" height="6"/><rect class="m1" x="428.3" y="-4.5" width="15.4" height="6"/><rect class="m2" x="447.7" y="-4.5" width="20.6" height="6"/><rect class="m8" x="522.7" y="-1.5" width="21.3" height="3"/></g>
<g id="r66" transform="translate(0,860.7)"><text class="nm" transform="matrix(.87 0 0 1 194 4.5)">OsWRKY39|IIe</text><text class="pv" x="270" y="4">6.9e-52</text><path class="ln" d="M336 1.5H591.7"/><rect class="m7" x="445.3" y="-4.5" width="11.4" height="6"/><rect class="m1" x="462" y="-4.5" width="15.7" height="6"/><rect class="m2" x="481" y="-4.5" width="21.3" height="6"/></g>
<g id="r67" transform="translate(0,873.1)"><text class="nm" transform="matrix(.87 0 0 1 194 4.5)">GarWRKY43|IIe</text><text class="pv" x="270" y="4">2.9e-53</text><path class="ln" d="M336.2 1.5H530.7"/><rect class="m7" x="372.3" y="-4.5" width="11.4" height="6"/><rect class="m1" x="395.7" y="-4.5" width="15.3" height="6"/><rect class="m2" x="414.7" y="-4.5" width="21.3" height="6"/></g>
<g id="r68" transform="translate(0,885.5)"><text class="nm" transform="matrix(.87 0 0 1 194 4.5)">GmWRKY65|IIe</text><text class="pv" x="270" y="4">1.7e-51</text><path class="ln" d="M336.3 1.5H522"/><rect class="m7" x="375.7" y="-4.5" width="11" height="6"/><rect class="m1" x="399.7" y="-4.5" width="15.6" height="6"/><rect class="m2" x="418.7" y="-4.5" width="21" height="6"/></g>
<g id="r69" transform="translate(0,897.9)"><text class="nm" transform="matrix(.87 0 0 1 194 4.5)">ATWRKY65|IIe</text><text class="pv" x="270" y="4">2.9e-53</text><path class="ln" d="M336.5 1.5H520"/><rect class="m7" x="367.7" y="-4.5" width="11.6" height="6"/><rect class="m1" x="391.3" y="-4.5" width="15.4" height="6"/><rect class="m2" x="410" y="-4.5" width="21.3" height="6"/></g>
<g id="r70" transform="translate(0,910.3)"><text class="nm" transform="matrix(.87 0 0 1 194 4.5)">GmWRKY14|IIe</text><text class="pv" x="270" y="4">5.1e-48</text><path class="ln" d="M336.6 1.5H562.7"/><rect class="m7" x="380.7" y="-4.5" width="11.6" height="6"/><rect class="m1" x="405.7" y="-4.5" width="15.3" height="6"/><rect class="m2" x="425" y="-4.5" width="21" height="6"/></g>
<g id="r71" transform="translate(0,922.7)"><text class="nm" transform="matrix(.87 0 0 1 194 4.5)">OsWRKY66|IIe</text><text class="pv" x="270" y="4">8.4e-50</text><path class="ln" d="M336.8 1.5H698.7"/><rect class="m8" x="465.3" y="-1.5" width="21.4" height="3"/><rect class="m7" x="487.3" y="-4.5" width="11.4" height="6"/><rect class="m1" x="510.3" y="-4.5" width="15.4" height="6"/><rect class="m2" x="529" y="-4.5" width="21.7" height="6"/><rect class="m6" x="607.3" y="-1.5" width="19.4" height="3"/><rect class="m8" x="677.3" y="-1.5" width="21.4" height="3"/></g>
<g id="r72" transform="translate(0,935.1)"><text class="nm" transform="matrix(.87 0 0 1 194 4.5)">GarWRKY27|IIe</text><text class="pv" x="270" y="4">8.1e-48</text><path class="ln" d="M336.9 1.5H626"/><rect class="m10" x="389.3" y="-4.5" width="20.4" height="6"/><rect class="m7" x="464.3" y="-4.5" width="10.7" height="6"/><rect class="m1" x="479.3" y="-4.5" width="15.7" height="6"/><rect class="m2" x="498.7" y="-4.5" width="21" height="6"/></g>
<g id="r73" transform="translate(0,947.5)"><text class="nm" transform="matrix(.87 0 0 1 194 4.5)">ATWRKY35|IIe</text><text class="pv" x="270" y="4">2.6e-57</text><path class="ln" d="M337.1 1.5H642.7"/><rect class="m7" x="471" y="-4.5" width="11" height="6"/><rect class="m1" x="493.3" y="-4.5" width="15.4" height="6"/><rect class="m8" x="533.7" y="-1.5" width="21" height="3"/><rect class="m2" x="513" y="-4.5" width="20.7" height="6"/></g>
<g id="r74" transform="translate(0,959.9)"><text class="nm" transform="matrix(.87 0 0 1 194 4.5)">OsWRKY37|IIe</text><text class="pv" x="270" y="4">4.3e-56</text><path class="ln" d="M337.2 1.5H700.7"/><rect class="m7" x="503.3" y="-4.5" width="11.4" height="6"/><rect class="m1" x="525.7" y="-4.5" width="16" height="6"/><rect class="m2" x="545" y="-4.5" width="21" height="6"/></g>
<g id="r75" transform="translate(0,972.3)"><text class="nm" transform="matrix(.87 0 0 1 194 4.5)">GarWRKY56|III</text><text class="pv" x="270" y="4">1e-40</text><path class="ln" d="M337.4 1.5H574.7"/><rect class="m7" x="400.3" y="-3" width="11.4" height="4.5"/><rect class="m1" x="420" y="-4.5" width="15.7" height="6"/><rect class="m2" x="440.3" y="-4.5" width="21.4" height="6"/></g>
<g id="r76" transform="translate(0,984.6)"><text class="nm" transform="matrix(.87 0 0 1 194 4.5)">GarWRKY90|III</text><text class="pv" x="270" y="4">5.4e-42</text><path class="ln" d="M337.6 1.5H572.7"/><rect class="m5" x="340" y="-1.5" width="29.7" height="3"/><rect class="m7" x="398" y="-3" width="11.3" height="4.5"/><rect class="m1" x="417.3" y="-4.5" width="16.4" height="6"/><rect class="m2" x="438.3" y="-4.5" width="21" height="6"/></g>
<g id="r77" transform="translate(0,997)"><text class="nm" transform="matrix(.87 0 0 1 194 4.5)">ATWRKY46|III</text><text class="pv" x="270" y="4">9.1e-47</text><path class="ln" d="M337.7 1.5H546.7"/><rect class="m3" x="393" y="-4.5" width="20.7" height="6"/><rect class="m1" x="413.7" y="-4.5" width="16" height="6"/><rect class="m2" x="434" y="-4.5" width="21.3" height="6"/></g>
<g id="r78" transform="translate(0,1009.4)"><text class="nm" transform="matrix(.87 0 0 1 194 4.5)">OsWRKY69|III</text><text class="st" x="259" y="6">*</text><text class="pv" x="270" y="4">5.8e-43</text><path class="ln" d="M337.9 1.5H563.7"/><rect class="m7" x="412.3" y="-4.5" width="11.4" height="6"/><rect class="m1" x="432.3" y="-4.5" width="15.4" height="6"/><rect class="m2" x="452.3" y="-4.5" width="21" height="6"/></g>
<g id="r79" transform="translate(0,1021.8)"><text class="nm" transform="matrix(.87 0 0 1 194 4.5)">GmWRKY53|III</text><text class="st" x="259" y="6">*</text><text class="pv" x="270" y="4">4.6e-42</text><path class="ln" d="M338 1.5H594"/><rect class="m7" x="411.3" y="-4.5" width="11.4" height="6"/><rect class="m1" x="431.3" y="-4.5" width="15.4" height="6"/><rect class="m2" x="451.7" y="-4.5" width="21" height="6"/></g>
<g id="r80" transform="translate(0,1034.2)"><text class="nm" transform="matrix(.87 0 0 1 194 4.5)">OsWRKY45|III</text><text class="st" x="259" y="6">*</text><text class="pv" x="270" y="4">2.5e-30</text><path class="ln" d="M338.2 1.5H568.3"/><rect class="m1" x="423.3" y="-4.5" width="16" height="6"/><rect class="m2" x="444" y="-4.5" width="21.3" height="6"/><rect class="m8" x="488.3" y="-3" width="21.4" height="4.5"/></g>
<g id="r81" transform="translate(0,1046.6)"><text class="nm" transform="matrix(.87 0 0 1 194 4.5)">GarWRKY5|III</text><text class="pv" x="270" y="4">1e-39</text><path class="ln" d="M338.3 1.5H554.3"/><rect class="m5" x="341.3" y="-1.5" width="29.4" height="3"/><rect class="m1" x="434.3" y="-4.5" width="15.4" height="6"/><rect class="m2" x="455" y="-4.5" width="20.7" height="6"/><rect class="m8" x="477" y="-3" width="21.3" height="4.5"/><rect class="m9" x="538.3" y="-3" width="14.4" height="4.5"/></g>
<g id="r82" transform="translate(0,1059)"><text class="nm" transform="matrix(.87 0 0 1 194 4.5)">GmWRKY57|III</text><text class="pv" x="270" y="4">1.3e-37</text><path class="ln" d="M338.5 1.5H549.3"/><rect class="m5" x="344" y="-1.5" width="29.7" height="3"/><rect class="m1" x="427.3" y="-4.5" width="15.4" height="6"/><rect class="m2" x="447.3" y="-4.5" width="21" height="6"/></g>
<g id="r83" transform="translate(0,1071.4)"><text class="nm" transform="matrix(.87 0 0 1 194 4.5)">GarWRKY114|III</text><text class="pv" x="270" y="4">8.8e-20</text><path class="ln" d="M338.7 1.5H554"/><rect class="m7" x="421.3" y="-1.5" width="11.4" height="3"/><rect class="m1" x="434.3" y="-4.5" width="15.7" height="6"/><rect class="m2" x="455" y="-1.5" width="21" height="3"/></g>
<g id="r84" transform="translate(0,1083.8)"><text class="nm" transform="matrix(.87 0 0 1 194 4.5)">ATWRKY70|III</text><text class="pv" x="270" y="4">1e-32</text><path class="ln" d="M338.8 1.5H546.7"/><rect class="m1" x="425.3" y="-4.5" width="15.4" height="6"/><rect class="m2" x="445.7" y="-4.5" width="21.3" height="6"/></g>
<g id="r85" transform="translate(0,1096.2)"><text class="nm" transform="matrix(.87 0 0 1 194 4.5)">GmWRKY58|III</text><text class="pv" x="270" y="4">4.8e-40</text><path class="ln" d="M339 1.5H562.7"/><rect class="m3" x="372.7" y="-1.5" width="21" height="3"/><rect class="m7" x="423.3" y="-4.5" width="11.4" height="6"/><rect class="m1" x="436.3" y="-4.5" width="16" height="6"/><rect class="m2" x="457" y="-4.5" width="21.3" height="6"/></g>
<g id="axis">
<path class="tk" d="M339 1110v5M353.1 1111.5v2.5M367.2 1111.5v2.5M381.3 1111.5v2.5M395.4 1111.5v2.5M409.5 1110v5M423.6 1111.5v2.5M437.7 1111.5v2.5M451.8 1111.5v2.5M466 1111.5v2.5M480.1 1110v5M494.2 1111.5v2.5M508.3 1111.5v2.5M522.4 1111.5v2.5M536.5 1111.5v2.5M550.6 1110v5M564.7 1111.5v2.5M578.8 1111.5v2.5M592.9 1111.5v2.5M607 1111.5v2.5M621.1 1110v5M635.2 1111.5v2.5M649.3 1111.5v2.5M663.4 1111.5v2.5M677.5 1111.5v2.5M691.7 1110v5M705.8 1111.5v2.5M719.9 1111.5v2.5M734 1111.5v2.5M748.1 1111.5v2.5M762.2 1110v5"/>
<text class="ax" x="339" y="1121">0</text><text class="ax" x="409.5" y="1121">100</text><text class="ax" x="480.1" y="1121">200</text><text class="ax" x="550.6" y="1121">300</text><text class="ax" x="621.1" y="1121">400</text><text class="ax" x="691.7" y="1121">500</text><text class="ax" x="762.2" y="1121">600</text>
</g>
<g id="legend">
<rect class="m1" x="384.5" y="1128.5" width="9" height="9"/><text class="lg" x="396.5" y="1136">Motif 1</text>
<rect class="m2" x="424.2" y="1128.5" width="9" height="9"/><text class="lg" x="436.2" y="1136">Motif 2</text>
<rect class="m3" x="463.9" y="1128.5" width="9" height="9"/><text class="lg" x="475.9" y="1136">Motif 3</text>
<rect class="m4" x="503.6" y="1128.5" width="9" height="9"/><text class="lg" x="515.6" y="1136">Motif 4</text>
<rect class="m5" x="543.3" y="1128.5" width="9" height="9"/><text class="lg" x="555.3" y="1136">Motif 5</text>
<rect class="m6" x="583" y="1128.5" width="9" height="9"/><text class="lg" x="595" y="1136">Motif 6</text>
<rect class="m7" x="622.7" y="1128.5" width="9" height="9"/><text class="lg" x="634.7" y="1136">Motif 7</text>
<rect class="m8" x="662.4" y="1128.5" width="9" height="9"/><text class="lg" x="674.4" y="1136">Motif 8</text>
<rect class="m9" x="702.1" y="1128.5" width="9" height="9"/><text class="lg" x="714.1" y="1136">Motif 9</text>
<rect class="m10" x="741.8" y="1128.5" width="9" height="9"/><text class="lg" x="753.8" y="1136">Motif 10</text>
</g>
</svg>
